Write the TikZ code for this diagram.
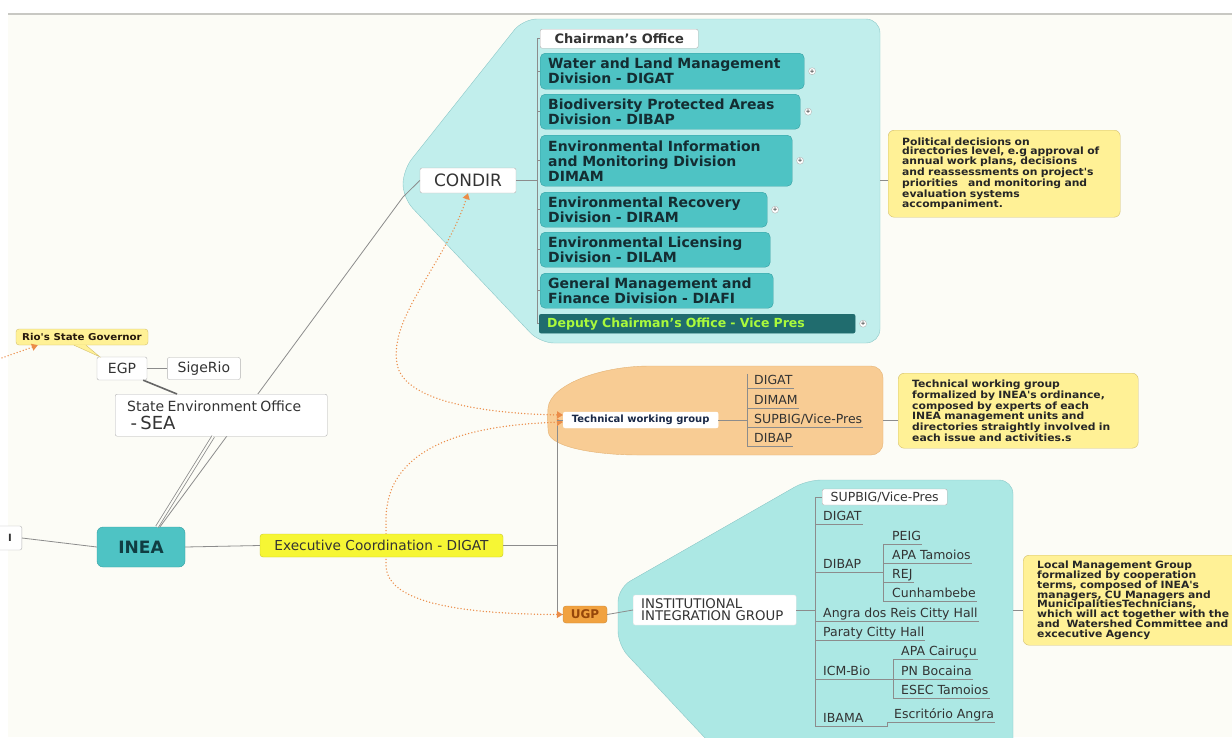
\documentclass[tikz,border=0pt]{standalone}
\usepackage{fontspec}
\setmainfont{DejaVu Sans}
\newfontfamily\notefont[FakeStretch=1.08]{DejaVu Sans}
\usetikzlibrary{shapes, arrows.meta, positioning}

\definecolor{paper}{RGB}{252,252,246}
\definecolor{rimgray}{RGB}{200,200,195}
\definecolor{wire}{RGB}{140,140,140}
\definecolor{boxline}{RGB}{178,178,178}
\definecolor{cyanbg}{RGB}{193,238,236}
\definecolor{cyanbgb}{RGB}{172,232,228}
\definecolor{cyanline}{RGB}{140,200,200}
\definecolor{tealbox}{RGB}{78,195,196}
\definecolor{tealline}{RGB}{55,160,162}
\definecolor{tealtext}{RGB}{20,45,50}
\definecolor{deputybg}{RGB}{32,108,110}
\definecolor{deputytext}{RGB}{170,250,60}
\definecolor{peach}{RGB}{248,204,148}
\definecolor{peachline}{RGB}{228,178,115}
\definecolor{ugporange}{RGB}{241,162,64}
\definecolor{ugptext}{RGB}{150,70,10}
\definecolor{noteyellow}{RGB}{255,241,150}
\definecolor{noteline}{RGB}{212,192,110}
\definecolor{exyellow}{RGB}{246,246,52}
\definecolor{exline}{RGB}{200,200,40}
\definecolor{relorange}{RGB}{235,140,72}
\definecolor{navytext}{RGB}{25,40,70}

\pgfdeclarelayer{clusters}
\pgfsetlayers{clusters,main}

\begin{document}
\begin{tikzpicture}[x=1pt, y=-1pt, >={Triangle[length=6pt,width=7pt]}]
% Node styles
\tikzstyle{plain} = [rectangle, rounded corners=2pt, draw=boxline, fill=white, text=black!80, inner sep=0pt]
\tikzstyle{division} = [rectangle, rounded corners=5pt, draw=tealline, fill=tealbox, text=tealtext, font=\bfseries\fontsize{14}{15}\selectfont, align=left, anchor=north west, inner xsep=8pt, inner ysep=0pt]
\tikzstyle{expand} = [circle, draw=boxline, fill=white, inner sep=0pt, minimum size=7pt, font=\fontsize{6}{6}\selectfont]
\tikzstyle{note} = [rectangle, rounded corners=6pt, draw=noteline, fill=noteyellow, text=black!85, font=\notefont\bfseries\fontsize{10}{9}\selectfont, align=left, anchor=north west, inner xsep=14pt, inner ysep=0pt]
\tikzstyle{leaf} = [anchor=west, inner sep=1pt, text height=9pt, text depth=3pt, text=black!80, font=\fontsize{12.5}{14}\selectfont]
\tikzstyle{link} = [draw=wire, line width=0.8pt]
\tikzstyle{relation} = [draw=relorange, line width=1.5pt, line cap=round, dash pattern=on 0pt off 3.2pt]

\useasboundingbox (0,0) rectangle (1232,737);

% Clusters
\begin{pgfonlayer}{clusters}
\fill[paper] (8,15) rectangle (1232,737);
\draw[rimgray, line width=1.5pt] (8,14) -- (1232,14);
\draw[cyanline, fill=cyanbg, rounded corners=14pt] (403,170) -- (523,19) -- (880,19) -- (880,343) -- (540,343) -- (403,198) -- cycle;
\draw[peachline, fill=peach, rounded corners=12pt] (650,366) -- (883,366) -- (883,455) -- (650,455) .. controls (600,455) and (550,448) .. (547,420) .. controls (550,385) and (600,366) .. (650,366);
\draw[cyanline, fill=cyanbgb, rounded corners=14pt] (807,480) -- (1013,480) -- (1013,770) -- (735,770) -- (618,645) -- (618,588) -- cycle;
\end{pgfonlayer}

% Tree points
\coordinate (condirtree) at (537,180.5);
\coordinate (condirrim) at (880,180);
\coordinate (condirbend) at (403,197);
\coordinate (execfork) at (557,545.5);
\coordinate (twgtree) at (747,420);
\coordinate (twgrim) at (883,420);
\coordinate (ugptree) at (815,610);
\coordinate (dibapfork) at (883,565);
\coordinate (icmfork) at (893,672);
\coordinate (ibamafork) at (887,719);
\coordinate (ugprim) at (1013,610);
\coordinate (offleft) at (-4,360);

% Nodes
\node[plain, minimum width=96pt, minimum height=25pt, font=\fontsize{17}{17}\selectfont] (condir) at (468,180.5) {CONDIR};
\node[plain, fill=tealbox, draw=tealline, rounded corners=6pt, minimum width=88pt, minimum height=40pt, font=\bfseries\fontsize{17}{17}\selectfont, text=tealtext!80!teal] (inea) at (141,547) {INEA};
\node[plain, draw=white, anchor=west, minimum width=155pt, minimum height=16pt, font=\bfseries\fontsize{10}{10}\selectfont, text=navytext] (twg) at (563,420) {Technical working group};
\node[plain, fill=ugporange, draw=ugporange!85!black, rounded corners=3pt, minimum width=44pt, minimum height=17pt, font=\bfseries\fontsize{12}{12}\selectfont, text=ugptext] (ugp) at (585,614.5) {UGP};

% Arrows passing behind boxes
\draw[link] ([xshift=19pt]inea.north) -- (condirbend) -- (condir.west);
\draw[link] (execfork |- twg.west) -- (execfork |- ugp.west) -- (ugp.west);
\draw[relation, <->] (condir.south) .. controls (445,265) and (385,320) .. (398,368) .. controls (410,405) and (500,414) .. ([yshift=5pt]twg.west);
\draw[relation, <->] ([yshift=-2pt]twg.west) .. controls (470,425) and (386,445) .. (386,520) -- (386,565) .. controls (386,600) and (450,614) .. (ugp.west);

\node[plain, anchor=north west, minimum width=158pt, minimum height=19pt, font=\bfseries\fontsize{13}{13}\selectfont] (chair) at (540,29) {Chairman's Office};
\node[division, text width=248pt, minimum height=36pt] (digat) at (540,53) {Water and Land Management\\Division - DIGAT};
\node[division, text width=244pt, minimum height=35pt] (dibap) at (540,94) {Biodiversity Protected Areas\\Division - DIBAP};
\node[division, text width=236pt, minimum height=51pt] (dimam) at (540,135) {Environmental Information\\and Monitoring Division\\DIMAM};
\node[division, text width=211pt, minimum height=35pt] (diram) at (540,192) {Environmental Recovery\\Division - DIRAM};
\node[division, text width=214pt, minimum height=35pt] (dilam) at (540,232) {Environmental Licensing\\Division - DILAM};
\node[division, text width=217pt, minimum height=35pt] (diafi) at (540,273) {General Management and\\Finance Division - DIAFI};
\node[division, fill=deputybg, draw=deputybg, text=deputytext, rounded corners=2pt, text width=300pt, minimum height=19pt, font=\bfseries\fontsize{12.5}{13}\selectfont] (vice) at (539,314) {Deputy Chairman's Office - Vice Pres};
\node[expand, right=4pt of digat] (plusdigat) {+};
\node[expand, right=4pt of dibap] (plusdibap) {+};
\node[expand, right=4pt of dimam] (plusdimam) {+};
\node[expand, right=4pt of diram] (plusdiram) {+};
\node[expand, right=4pt of vice] (plusvice) {+};

\node[note, text width=204pt, minimum height=87pt] (polnote) at (888,130) {Political decisions on\\directories level, e.g approval of\\annual work plans, decisions\\and reassessments on project's\\priorities\ \ \ and monitoring and\\evaluation systems\\accompaniment.};

\node[note, anchor=center, rounded corners=3pt, inner xsep=4pt, minimum width=132pt, minimum height=16pt, font=\notefont\bfseries\fontsize{9.5}{10}\selectfont, text=black!80!brown] (rio) at (82,337) {Rio's State Governor};
\node[plain, minimum width=50pt, minimum height=23pt, font=\fontsize{14}{14}\selectfont] (egp) at (122,368.5) {EGP};
\node[plain, right=20pt of egp, minimum width=73pt, minimum height=22pt, font=\fontsize{14}{14}\selectfont] (sigerio) {SigeRio};
\node[plain, anchor=north west, text width=188pt, inner xsep=12pt, minimum height=42pt, align=left] (sea) at (115,394) {\fontsize{14}{17}\selectfont State Environment Office\\[3pt]\fontsize{18}{18}\selectfont\ - SEA};

\node[plain, anchor=east, text width=60pt, inner xsep=10pt, minimum height=24pt, align=right] (prev) at (22,538) {\bfseries I};
\node[plain, fill=exyellow, draw=exline, rounded corners=3pt, minimum width=243pt, minimum height=23pt, font=\fontsize{13.7}{14}\selectfont] (exec) at (381.5,545.5) {Executive Coordination - DIGAT};

\node[leaf] (tdigat) at (753,381) {DIGAT};
\node[leaf] (tdimam) at (753,401) {DIMAM};
\node[leaf] (tsupbig) at (753,420) {SUPBIG/Vice-Pres};
\node[leaf] (tdibap) at (753,439) {DIBAP};
\node[note, text width=212pt, minimum height=75pt] (tecnote) at (898,373) {Technical working group\\formalized by INEA's ordinance,\\composed by experts of each\\INEA management units and\\directories straightly involved in\\each issue and activities.s};

\node[plain, anchor=west, text width=147pt, inner xsep=8pt, minimum height=30pt, align=left, font=\fontsize{13.3}{12}\selectfont, draw=white!80!gray] (iig) at (633,610) {INSTITUTIONAL\\INTEGRATION GROUP};
\node[plain, anchor=west, minimum width=125pt, minimum height=16pt, font=\fontsize{12.5}{12.5}\selectfont] (usupbig) at (822,497) {SUPBIG/Vice-Pres};
\node[leaf] (udigat) at (822,517) {DIGAT};
\node[leaf] (udibap) at (822,565) {DIBAP};
\node[leaf] (upeig) at (891,537) {PEIG};
\node[leaf] (uapatam) at (891,556) {APA Tamoios};
\node[leaf] (urej) at (891,575) {REJ};
\node[leaf] (ucunha) at (891,594) {Cunhambebe};
\node[leaf] (uangra) at (822,614) {Angra dos Reis Citty Hall};
\node[leaf] (uparaty) at (822,633) {Paraty Citty Hall};
\node[leaf] (uicm) at (822,672) {ICM-Bio};
\node[leaf] (ucairucu) at (900,652) {APA Cairuçu};
\node[leaf] (ubocaina) at (900,672) {PN Bocaina};
\node[leaf] (uesec) at (900,691) {ESEC Tamoios};
\node[leaf] (uibama) at (822,719) {IBAMA};
\node[leaf] (uescrit) at (893,715) {Escritório Angra};
\node[note, text width=200pt, minimum height=90pt, font=\notefont\bfseries\fontsize{10}{9.8}\selectfont] (locnote) at (1023,555) {Local Management Group\\formalized by cooperation\\terms, composed of INEA's\\managers, CU Managers and\\MunicipalitiesTechnicians,\\which will act together with the\\and\ \ Watershed Committee and\\excecutive Agency};

% Rio's note tail
\fill[noteyellow] ([xshift=-8pt]rio.south) -- ([xshift=3pt]egp.north west) -- ([xshift=4pt]rio.south) -- cycle;
\draw[noteline] ([xshift=-8pt]rio.south) -- ([xshift=3pt]egp.north west) -- ([xshift=4pt]rio.south);

% Arrows
\draw[link] (condir.east) -- (condirtree);
\draw[link] (condirtree |- chair.west) -- (condirtree |- vice.west);
\foreach \n in {chair,digat,dibap,dimam,diram,dilam,diafi,vice}
  \draw[link] (condirtree |- \n.west) -- (\n.west);
\draw[link] (condirrim) -- (condirrim -| polnote.west);

\draw[link] (egp.east) -- (sigerio.west);
\draw[darkgray!80, line width=1.6pt] ([xshift=-4pt]egp.south east) -- ([xshift=62pt]sea.north west);
\draw[link, double=paper, double distance=2pt] ([xshift=16pt]inea.north) -- ([xshift=-8pt]sea.south);
\draw[link] (prev.east) -- (inea.west);
\draw[link] (inea.east) -- (exec.west);
\draw[link] (exec.east) -- (execfork);
\draw[link] (twg.west) -- (execfork |- twg.west);

\draw[link] (twg.east) -- (twgtree);
\draw[link] (twgtree |- tdigat.north) -- (twgtree |- tdibap.south);
\foreach \n in {tdigat,tdimam,tsupbig,tdibap}
  \draw[link] (twgtree |- \n.south) -- (\n.south east);
\draw[link] (twgrim) -- (twgrim -| tecnote.west);

\draw[link] (ugp.east) -- (iig.west);
\draw[link] (iig.east) -- (ugptree);
\draw[link] (ugptree |- usupbig.west) -- (ugptree |- uibama.south);
\draw[link] (ugptree |- usupbig.west) -- (usupbig.west);
\foreach \n in {udigat,uangra,uparaty}
  \draw[link] (ugptree |- \n.south) -- (\n.south east);
\draw[link] (ugptree |- udibap.south) -- (dibapfork |- udibap.south);
\draw[link] (dibapfork |- upeig.south) -- (dibapfork |- ucunha.south);
\foreach \n in {upeig,uapatam,urej,ucunha}
  \draw[link] (dibapfork |- \n.south) -- (\n.south east);
\draw[link] (ugptree |- uicm.south) -- (icmfork |- uicm.south);
\draw[link] (icmfork |- ucairucu.south) -- (icmfork |- uesec.south);
\foreach \n in {ucairucu,ubocaina,uesec}
  \draw[link] (icmfork |- \n.south) -- (\n.south east);
\draw[link] (ugptree |- uibama.south) -- (ibamafork |- uibama.south) -- (ibamafork |- uescrit.south) -- (uescrit.south east);
\draw[link] (ugprim) -- (ugprim -| locnote.west);

\draw[relation, ->] (offleft) -- ([xshift=22pt]rio.south west);
\end{tikzpicture}
\end{document}
